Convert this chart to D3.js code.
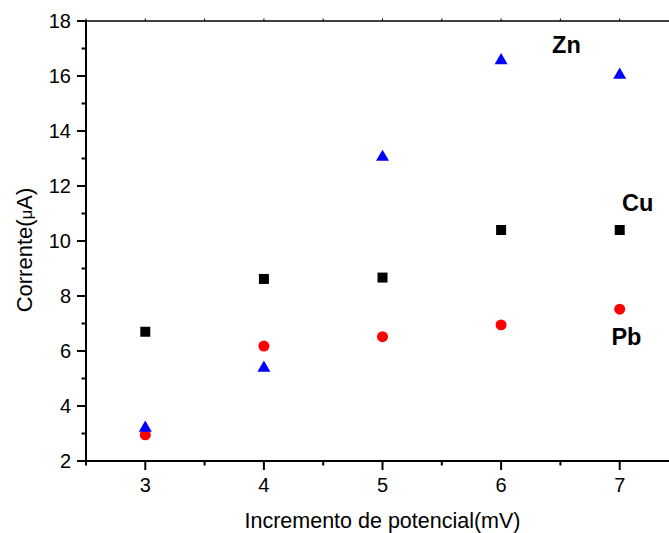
<!DOCTYPE html>
<html>
<head>
<meta charset="utf-8">
<script src="https://cdn.jsdelivr.net/npm/d3@7"></script>
<style>
  html, body { margin: 0; padding: 0; background: #fff; }
  svg { display: block; font-family: "Liberation Sans", Arial, sans-serif; }
</style>
</head>
<body>
<svg id="chart" width="669" height="533"></svg>
<script>
// Potential increment (mV)
const increments = [3, 4, 5, 6, 7];
// Peak currents (µA) per metal
const cuValues = [6.70, 8.62, 8.67, 10.40, 10.40];
const pbValues = [2.95, 6.18, 6.52, 6.95, 7.52];
const znValues = [3.20, 5.38, 13.05, 16.56, 16.04];
// Axis ticks
const xTicks = [3, 4, 5, 6, 7];
const xMinorTicks = [2.5, 3.5, 4.5, 5.5, 6.5, 7.5];
const yTicks = [2, 4, 6, 8, 10, 12, 14, 16, 18];
const yMinorTicks = [3, 5, 7, 9, 11, 13, 15, 17];
// Series labels placed next to their points
const seriesLabels = [
  { text: "Zn", x: 6.43, y: 16.84 },
  { text: "Cu", x: 7.02, y: 11.09 },
  { text: "Pb", x: 6.93, y: 6.22 }
];

const svg = d3.select("#chart");
const x = d3.scaleLinear().domain([2.5, 7.5]).range([86, 679]);
const y = d3.scaleLinear().domain([2, 18]).range([461, 21]);

// Top frame line
svg.append("line").attr("x1", 86).attr("x2", 669).attr("y1", y(18)).attr("y2", y(18))
  .attr("stroke", "#000").attr("stroke-width", 1.5);

// Top ticks (small)
svg.append("g").selectAll("line").data(xTicks.concat(xMinorTicks)).join("line")
  .attr("x1", d => x(d)).attr("x2", d => x(d))
  .attr("y1", y(18)).attr("y2", y(18) - 2.5)
  .attr("stroke", "#000").attr("stroke-width", 1);

// Bottom axis
const xAxis = svg.append("g").attr("transform", "translate(0,461)");
xAxis.append("line").attr("x1", 85).attr("x2", 669).attr("y1", 0).attr("y2", 0)
  .attr("stroke", "#000").attr("stroke-width", 2);
xAxis.selectAll(".maj").data(xTicks).join("line").attr("class", "maj")
  .attr("x1", d => x(d)).attr("x2", d => x(d)).attr("y1", 0).attr("y2", 9)
  .attr("stroke", "#000").attr("stroke-width", 2);
xAxis.selectAll(".min").data(xMinorTicks).join("line").attr("class", "min")
  .attr("x1", d => x(d)).attr("x2", d => x(d)).attr("y1", 0).attr("y2", 4.5)
  .attr("stroke", "#000").attr("stroke-width", 2);
xAxis.selectAll("text").data(xTicks).join("text")
  .attr("x", d => x(d)).attr("y", 31).attr("text-anchor", "middle")
  .attr("font-size", 20).text(d => d);

// Left axis
const yAxis = svg.append("g").attr("transform", "translate(86,0)");
yAxis.append("line").attr("x1", 0).attr("x2", 0).attr("y1", y(18)).attr("y2", 462)
  .attr("stroke", "#000").attr("stroke-width", 2);
yAxis.selectAll(".maj").data(yTicks).join("line").attr("class", "maj")
  .attr("x1", -9).attr("x2", 0).attr("y1", d => y(d)).attr("y2", d => y(d))
  .attr("stroke", "#000").attr("stroke-width", 2);
yAxis.selectAll(".min").data(yMinorTicks).join("line").attr("class", "min")
  .attr("x1", -4.5).attr("x2", 0).attr("y1", d => y(d)).attr("y2", d => y(d))
  .attr("stroke", "#000").attr("stroke-width", 2);
yAxis.selectAll("text").data(yTicks).join("text")
  .attr("x", -15).attr("y", d => y(d)).attr("dy", "0.36em").attr("text-anchor", "end")
  .attr("font-size", 20).text(d => d);

// Axis titles
svg.append("text").attr("x", x(5)).attr("y", 528).attr("text-anchor", "middle")
  .attr("font-size", 21.5).text("Incremento de potencial(mV)");
const yt = svg.append("text").attr("transform", "translate(32,250) rotate(-90)")
  .attr("text-anchor", "middle").attr("font-size", 22);
yt.append("tspan").text("Corrente(");
yt.append("tspan").attr("font-size", 17).text("μ");
yt.append("tspan").text("A)");

// Markers
const marks = svg.append("g");
const sym = (type, size) => d3.symbol().type(type).size(size)();
marks.selectAll(".cu").data(increments).join("path").attr("class", "cu")
  .attr("d", sym(d3.symbolSquare, 100))
  .attr("transform", (d, i) => `translate(${x(d)},${y(cuValues[i])})`)
  .attr("fill", "#000");
marks.selectAll(".pb").data(increments).join("path").attr("class", "pb")
  .attr("d", sym(d3.symbolCircle, 95))
  .attr("transform", (d, i) => `translate(${x(d)},${y(pbValues[i])})`)
  .attr("fill", "#ff0000");
marks.selectAll(".zn").data(increments).join("path").attr("class", "zn")
  .attr("d", sym(d3.symbolTriangle, 73))
  .attr("transform", (d, i) => `translate(${x(d)},${y(znValues[i])})`)
  .attr("fill", "#0000ff");

// Series labels
svg.append("g").selectAll("text").data(seriesLabels).join("text")
  .attr("x", d => x(d.x)).attr("y", d => y(d.y))
  .attr("font-size", 23.5).attr("font-weight", "bold").text(d => d.text);
</script>
</body>
</html>
